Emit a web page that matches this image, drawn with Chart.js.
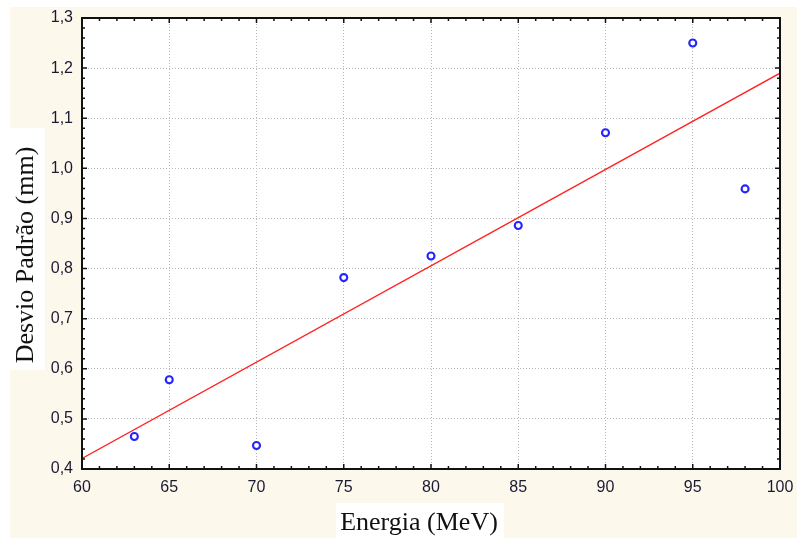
<!DOCTYPE html>
<html>
<head>
<meta charset="utf-8">
<script src="https://cdn.jsdelivr.net/npm/chart.js@4.4.1/dist/chart.umd.min.js"></script>
<style>
  html, body { margin: 0; padding: 0; background: #fff; }
  #wrap { width: 797px; height: 538px; }
</style>
</head>
<body>
<div id="wrap"><canvas id="desvioChart" width="797" height="538"></canvas></div>
<script>
// medidas: desvio padrão por energia do feixe
const energia = [63, 65, 70, 75, 80, 85, 90, 95, 98];
const desvio = [0.465, 0.578, 0.447, 0.782, 0.825, 0.886, 1.071, 1.25, 0.959];

// reta de ajuste, valores nos extremos do eixo
const ajusteX = [60, 100];
const ajusteY = [0.421, 1.19];

// limites e divisões dos eixos
const eixoX = { min: 60, max: 100, passo: 5, menor: 1 };
const eixoY = { min: 0.4, max: 1.3, passo: 0.1, menor: 0.02 };

const tituloX = "Energia (MeV)";
const tituloY = "Desvio Padrão (mm)";

const corTexto = "#1a1a33";
const fonteNum = { family: "Liberation Sans, Arial, sans-serif", size: 16 };
const fonteTitulo = "26px 'Liberation Serif', 'Times New Roman', serif";

// fundo creme, caixas brancas dos títulos, moldura e marcas internas
const moldura = {
  id: "moldura",
  beforeDraw(chart) {
    const { ctx, chartArea: a } = chart;
    ctx.save();
    ctx.fillStyle = "#fff";
    ctx.fillRect(0, 0, chart.width, chart.height);
    ctx.fillStyle = "#fdf8ec";
    ctx.fillRect(10, 7, chart.width - 10, chart.height - 7);
    ctx.fillStyle = "#fff";
    ctx.fillRect(a.left, a.top, a.right - a.left, a.bottom - a.top);
    ctx.fillRect(0, 128, 45, 242);
    ctx.fillRect(336, 503, 168, 35);
    ctx.restore();
  },
  afterDatasetsDraw(chart) {
    const { ctx, chartArea: a, scales: { x, y } } = chart;
    ctx.save();
    ctx.strokeStyle = "#111";
    ctx.lineWidth = 1.5;
    ctx.beginPath();
    const nx = Math.round((eixoX.max - eixoX.min) / eixoX.menor);
    for (let i = 0; i <= nx; i++) {
      const px = x.getPixelForValue(eixoX.min + i * eixoX.menor);
      const len = i % 5 === 0 ? 5 : 3;
      ctx.moveTo(px, a.bottom); ctx.lineTo(px, a.bottom - len);
      ctx.moveTo(px, a.top); ctx.lineTo(px, a.top + len);
    }
    const ny = Math.round((eixoY.max - eixoY.min) / eixoY.menor);
    for (let j = 0; j <= ny; j++) {
      const py = y.getPixelForValue(eixoY.min + j * eixoY.menor);
      const len = j % 5 === 0 ? 5 : 3;
      ctx.moveTo(a.left, py); ctx.lineTo(a.left + len, py);
      ctx.moveTo(a.right, py); ctx.lineTo(a.right - len, py);
    }
    ctx.stroke();
    ctx.lineWidth = 2;
    ctx.strokeRect(a.left, a.top, a.right - a.left, a.bottom - a.top);
    ctx.restore();
  },
  afterDraw(chart) {
    const ctx = chart.ctx;
    ctx.save();
    ctx.font = fonteTitulo;
    ctx.fillStyle = "#111";
    ctx.textAlign = "center";
    ctx.textBaseline = "alphabetic";
    ctx.fillText(tituloX, 419, 530);
    ctx.translate(33, 255);
    ctx.rotate(-Math.PI / 2);
    ctx.fillText(tituloY, 0, 0);
    ctx.restore();
  }
};

const ctx = document.getElementById("desvioChart").getContext("2d");
new Chart(ctx, {
  type: "scatter",
  data: {
    datasets: [
      {
        label: "Desvio",
        data: energia.map((e, i) => ({ x: e, y: desvio[i] })),
        pointStyle: "circle",
        pointRadius: 3.5,
        borderWidth: 2.1,
        borderColor: "#2424ff",
        backgroundColor: "#fff"
      },
      {
        label: "Ajuste",
        data: ajusteX.map((e, i) => ({ x: e, y: ajusteY[i] })),
        showLine: true,
        pointRadius: 0,
        borderColor: "#ff2222",
        borderWidth: 1.4
      }
    ]
  },
  options: {
    responsive: false,
    animation: false,
    layout: { padding: { top: 18, right: 17, left: 0, bottom: 0 } },
    plugins: {
      legend: { display: false },
      tooltip: { enabled: false }
    },
    scales: {
      x: {
        type: "linear",
        min: eixoX.min,
        max: eixoX.max,
        ticks: { stepSize: eixoX.passo, padding: 9, color: corTexto, font: fonteNum, maxRotation: 0 },
        grid: { color: "#b8b8b8", lineWidth: 1, drawTicks: false },
        border: { display: false, dash: [1, 2] },
        afterFit(s) { s.height = 69; s.paddingLeft = 0; s.paddingRight = 0; }
      },
      y: {
        min: eixoY.min,
        max: eixoY.max,
        ticks: {
          stepSize: eixoY.passo, padding: 9, color: corTexto, font: fonteNum,
          callback: v => v.toFixed(1).replace(".", ",")
        },
        grid: { color: "#b8b8b8", lineWidth: 1, drawTicks: false },
        border: { display: false, dash: [1, 2] },
        afterFit(s) { s.width = 82; s.paddingTop = 0; s.paddingBottom = 0; }
      }
    }
  },
  plugins: [moldura]
});
</script>
</body>
</html>
